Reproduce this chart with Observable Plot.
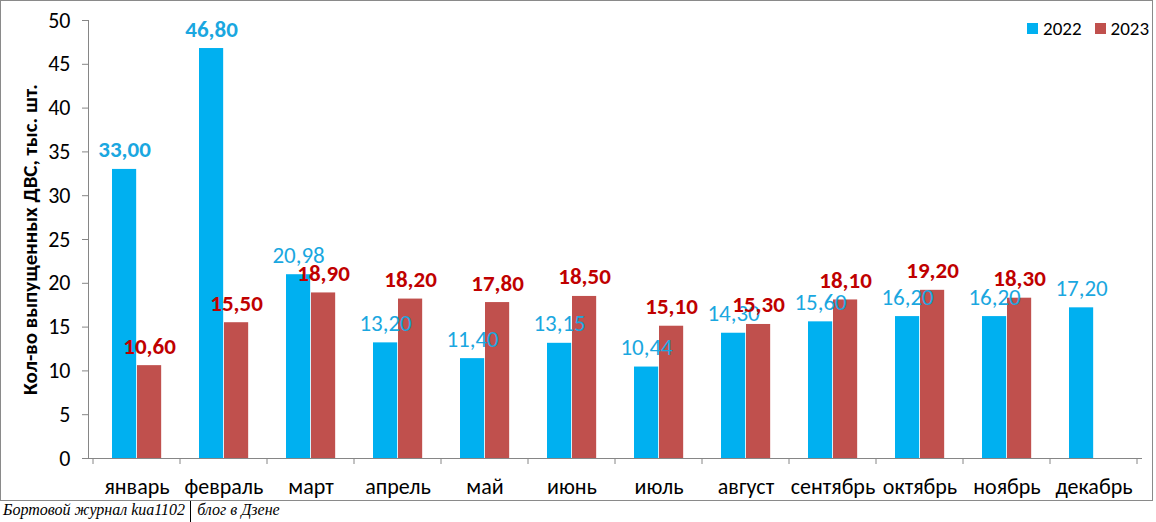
<!DOCTYPE html>
<html>
<head>
<meta charset="utf-8">
<script src="https://cdn.jsdelivr.net/npm/d3@7"></script>
<script src="https://cdn.jsdelivr.net/npm/@observablehq/plot@0.6"></script>
<style>
  html, body { margin: 0; padding: 0; background: #fff; }
  #wrap { position: relative; width: 1156px; height: 522px; overflow: hidden; }
  #frame { position: absolute; left: 0; top: 0; width: 1151px; height: 499px; border: 1.5px solid #8a8a8a; pointer-events: none; }
  #legend { position: absolute; top: 17px; left: 1027px; font: 19px Carlito, Lato, sans-serif; color: #000; display: flex; align-items: center; }
  #legend span.sw { display: inline-block; width: 11px; height: 11px; margin-right: 5px; }
  #legend span.lb { margin-right: 13px; }
  #footer { position: absolute; left: 3px; top: 501px; font: italic 16px "Liberation Serif", serif; color: #000; white-space: nowrap; }
  #footer .sep { display: inline-block; border-left: 1.5px solid #000; height: 21px; vertical-align: top; margin: 0 6px 0 5px; }
</style>
</head>
<body>
<div id="wrap">
  <div id="chart"></div>
  <div id="frame"></div>
  <div id="legend"></div>
  <div id="footer"></div>
</div>
<script>
const months = ["январь","февраль","март","апрель","май","июнь","июль","август","сентябрь","октябрь","ноябрь","декабрь"];
const values2022 = [33.00, 46.80, 20.98, 13.20, 11.40, 13.15, 10.44, 14.30, 15.60, 16.20, 16.20, 17.20];
const values2023 = [10.60, 15.50, 18.90, 18.20, 17.80, 18.50, 15.10, 15.30, 18.10, 19.20, 18.30, null];
const seriesNames = ["2022", "2023"];
const yTicks = [0, 5, 10, 15, 20, 25, 30, 35, 40, 45, 50];
const yTitle = "Кол-во выпущенных ДВС, тыс. шт.";
const footerLeft = "Бортовой журнал kua1102";
const footerRight = "блог в Дзене";

const barColors = {"2022": "#00B0F0", "2023": "#C0504D"};
const labelColors = {"2022": "#1AA7E0", "2023": "#C00000"};
const font = "Carlito, Lato, sans-serif";

const rows = [];
months.forEach((m, i) => {
  rows.push({month: m, series: "2022", value: values2022[i]});
  if (values2023[i] != null) rows.push({month: m, series: "2023", value: values2023[i]});
});
const rows22 = rows.filter(d => d.series === "2022");
const rows23 = rows.filter(d => d.series === "2023");

const W = 1156, H = 502;
const mL = 88, mR = 14, mT = 20, mB = 44;
const bw = (W - mL - mR) / months.length;
const barW = 25, off = 19;
const fmt = v => v.toFixed(2).replace(".", ",");

const boundaryTicks = (index, scales) => {
  const g = d3.create("svg:g").attr("stroke", "#868686").attr("stroke-width", 1);
  const y0 = scales.y(0);
  const xs = months.map(m => scales.x(m));
  xs.push(scales.x(months[months.length - 1]) + scales.x.bandwidth());
  xs.forEach(x => g.append("line").attr("x1", x).attr("x2", x).attr("y1", y0).attr("y2", y0 + 6));
  return g.node();
};

const blueText = (data, weight) => Plot.text(data, {
  x: "month", y: "value", text: d => fmt(d.value),
  dx: off + barW / 2 - bw / 2, dy: -12, lineAnchor: "bottom",
  fill: labelColors["2022"], fontSize: 23, fontWeight: weight
});

const chart = Plot.plot({
  width: W, height: H,
  marginLeft: mL, marginRight: mR, marginTop: mT, marginBottom: mB,
  style: {fontFamily: font, background: "transparent"},
  x: {domain: months, padding: 0, label: null},
  y: {domain: [0, 50], label: null},
  marks: [
    Plot.barY(rows22, {
      x: "month", y: "value", fill: barColors["2022"],
      insetLeft: off, insetRight: bw - off - barW
    }),
    Plot.barY(rows23, {
      x: "month", y: "value", fill: barColors["2023"],
      insetLeft: off + barW, insetRight: bw - off - 2 * barW
    }),
    Plot.ruleY([0], {stroke: "#868686", strokeWidth: 1}),
    Plot.frame({anchor: "left", stroke: "#868686", strokeWidth: 1}),
    boundaryTicks,
    Plot.axisY({ticks: yTicks, tickSize: 6, tickPadding: 12, stroke: "#868686", fontSize: 22, fill: "#000", label: null}),
    Plot.axisX({tickSize: 0, tickPadding: 20, fontSize: 22, fill: "#000", label: null}),
    blueText(rows22.filter(d => d.value >= 30), "bold"),
    blueText(rows22.filter(d => d.value < 30), "normal"),
    Plot.text(rows23, {
      x: "month", y: "value", text: d => fmt(d.value),
      dx: off + barW * 1.5 - bw / 2, dy: -12, lineAnchor: "bottom",
      fill: labelColors["2023"], fontSize: 23, fontWeight: "bold"
    }),
    Plot.text([yTitle], {
      text: d => d, frameAnchor: "left", textAnchor: "middle", dx: -58, rotate: -90,
      fontSize: 21, fontWeight: "bold", fill: "#000"
    })
  ]
});
document.getElementById("chart").appendChild(chart);

const legend = document.getElementById("legend");
seriesNames.forEach(s => {
  const sw = document.createElement("span"); sw.className = "sw"; sw.style.background = barColors[s];
  const lb = document.createElement("span"); lb.className = "lb"; lb.textContent = s;
  legend.appendChild(sw); legend.appendChild(lb);
});
const footer = document.getElementById("footer");
footer.append(footerLeft);
const sep = document.createElement("span"); sep.className = "sep"; footer.appendChild(sep);
footer.append(footerRight);
</script>
</body>
</html>
